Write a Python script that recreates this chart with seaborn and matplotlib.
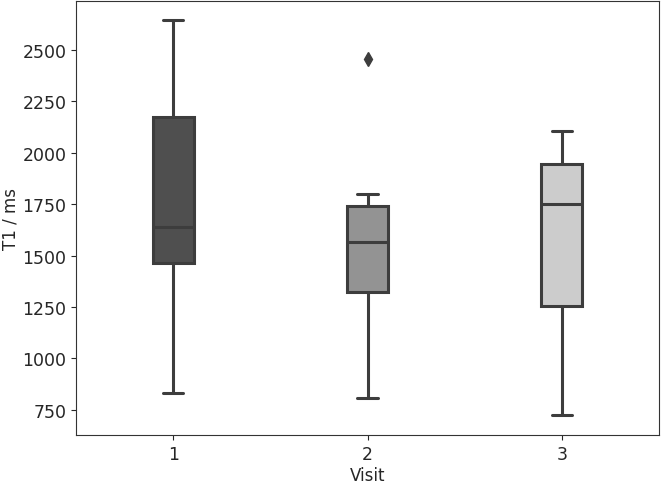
import pandas as pd
import numpy as np
import matplotlib.pyplot as plt
import seaborn as sns

sns.set_style("ticks")
plt.rcParams['font.family'] = ['DejaVu Sans']

# T1 values per visit (whiskers, quartiles, median, outlier)
visit1 = [833, 1465, 1640, 2174, 2646]
visit2 = [808, 1100, 1324, 1450, 1567, 1650, 1742, 1800, 2456]
visit3 = [726, 1255, 1751, 1946, 2106]
visits = ["1", "2", "3"]
box_colors = ["#4f4f4f", "#939393", "#cccccc"]

df = pd.DataFrame({
    "Visit": ["1"] * len(visit1) + ["2"] * len(visit2) + ["3"] * len(visit3),
    "T1": visit1 + visit2 + visit3,
})

fig, ax = plt.subplots(figsize=(6.61, 4.85), dpi=100)
line_c = "#3d3d3d"
sns.boxplot(data=df, x="Visit", y="T1", order=visits, hue="Visit",
            palette=box_colors, saturation=1, width=0.21, linewidth=2.2,
            linecolor=line_c, legend=False, ax=ax,
            flierprops=dict(marker="d", markerfacecolor=line_c,
                            markeredgecolor=line_c, markersize=7))

for s in ax.spines.values():
    s.set_visible(True)
    s.set_color("#333333")
ax.set_xlabel("Visit", fontsize=12, labelpad=2)
ax.set_ylabel("T1 / ms", fontsize=12, labelpad=2)
ax.tick_params(labelsize=12.5)
ax.set_yticks([750, 1000, 1250, 1500, 1750, 2000, 2250, 2500])
ax.set_ylim(628, 2738)

plt.subplots_adjust(left=0.115, right=0.997, top=0.996, bottom=0.101)
plt.savefig("out.png", dpi=100)
